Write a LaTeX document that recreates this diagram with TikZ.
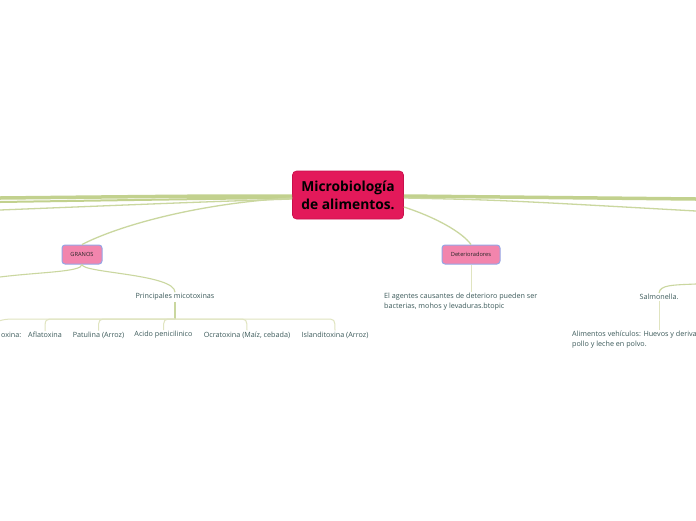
\documentclass[tikz,border=0pt]{standalone}
\usepackage{fontspec}
\setmainfont{Open Sans}
\definecolor{crim}{HTML}{E3195A}
\definecolor{crimd}{HTML}{C8104C}
\definecolor{pinkbox}{HTML}{F285AD}
\definecolor{bluebd}{HTML}{95A6E6}
\definecolor{txt}{HTML}{3C5A5A}
\definecolor{lnA}{HTML}{C2D18E}
\definecolor{lnB}{HTML}{CAD79F}
\definecolor{lnC}{HTML}{E0E4C0}
\tikzset{
  central/.style={draw=crimd, line width=0.6pt, fill=crim, rounded corners=4pt, minimum width=111pt, minimum height=48pt, align=center, inner sep=2pt, font=\fontsize{13.8}{18}\selectfont\bfseries, text=black},
  topicbox/.style={draw=bluebd, line width=1pt, fill=pinkbox, rounded corners=3pt, minimum height=19pt, inner sep=1pt, font=\fontsize{5.7}{6.5}\selectfont, text=black!85},
  leaf/.style={inner sep=1pt, font=\fontsize{7.2}{9.6}\selectfont, text=txt},
  thick1/.style={draw=lnA, line width=3.5pt},
  thick2/.style={draw=lnA, line width=2pt},
  thin1/.style={draw=lnB, line width=1.3pt},
  sub/.style={draw=lnB, line width=1.1pt},
  leafln/.style={draw=lnC, line width=1pt},
}
\begin{document}
\begin{tikzpicture}[x=1pt,y=-1pt]
\fill[white] (0,0) rectangle (696,520);
\useasboundingbox (0,0) rectangle (696,520);
\clip (0,0) rectangle (696,520);

% coordinates at the picture edges
\coordinate (L1) at (0,198);
\coordinate (L2) at (0,202);
\coordinate (L3) at (0,210);
\coordinate (R1) at (696,199);
\coordinate (R2) at (696,211);
\coordinate (LG) at (0,277);
\coordinate (LC) at (-8,323);
\coordinate (SR) at (696,284);

% nodes
\node[central] (c) at (348,195) {Microbiología\\de alimentos.};
\node[topicbox, minimum width=40pt] (g) at (82,254.5) {GRANOS};
\node[topicbox, minimum width=58pt] (d) at (471,254.5) {Deterioradores};

\node[leaf] (p) at (175,297) {Principales micotoxinas};
\node[leaf, anchor=west] (k0) at (0,335) {oxina:};
\node[leaf] (k1) at (45,335) {Aflatoxina};
\node[leaf] (k2) at (98.5,335) {Patulina (Arroz)};
\node[leaf] (k3) at (163.5,335) {Acido penicilinico};
\node[leaf] (k4) at (247,335) {Ocratoxina (Maíz, cebada)};
\node[leaf] (k5) at (335,335) {Islanditoxina (Arroz)};

\node[leaf, anchor=north west, align=left] (dt) at (383,292) {El agentes causantes de deterioro pueden ser\\bacterias, mohos y levaduras.btopic};

\node[leaf] (s) at (659,297) {Salmonella.};
\node[leaf, anchor=north west, align=left] (a) at (571,330) {Alimentos vehículos: Huevos y deriva\\pollo y leche en polvo.};

% main connectors
\draw[thick1] ([yshift=-1pt]c.west) .. controls (200,196) .. (L1);
\draw[thick2] ([yshift=-3pt]c.west) .. controls (200,199) .. (L2);
\draw[thin1] ([yshift=-4pt]c.west) .. controls (200,202) .. (L3);
\draw[thick1] ([yshift=-1pt]c.east) .. controls (500,197) .. (R1);
\draw[thin1] ([yshift=-3pt]c.east) .. controls (500,200) .. (R2);

\draw[thin1] ([yshift=-3pt]c.west) .. controls (200,203) and (120,225) .. (g.north);
\draw[thin1] ([yshift=-12pt]c.east) .. controls (435,217) and (462,232) .. (d.north);

% GRANOS branches
\draw[sub] (g.south) .. controls (82,272) and (40,272) .. (LG);
\draw[sub] (g.south) .. controls (82,273) and (175,274) .. (p.north);

% micotoxinas
\coordinate (pj) at (175,319);
\draw[draw=lnB, line width=1.6pt] (p.south) -- (pj);
\draw[leafln] (pj) -- (20,319) .. controls (5,319) .. (LC);
\foreach \k in {k1,k2,k3}{
  \draw[leafln] (pj) -- ([xshift=10pt]\k.north |- pj) .. controls (\k.north |- pj) .. (\k.north);
}
\foreach \k in {k4,k5}{
  \draw[leafln] (pj) -- ([xshift=-10pt]\k.north |- pj) .. controls (\k.north |- pj) .. (\k.north);
}

% Deterioradores
\draw[leafln] (d.south) -- (d.south |- dt.north);

% Salmonella
\draw[sub] (SR) .. controls (672,285) and (660,285) .. (s.north);
\draw[leafln] (s.south) -- (s.south |- a.north);
\end{tikzpicture}
\end{document}
